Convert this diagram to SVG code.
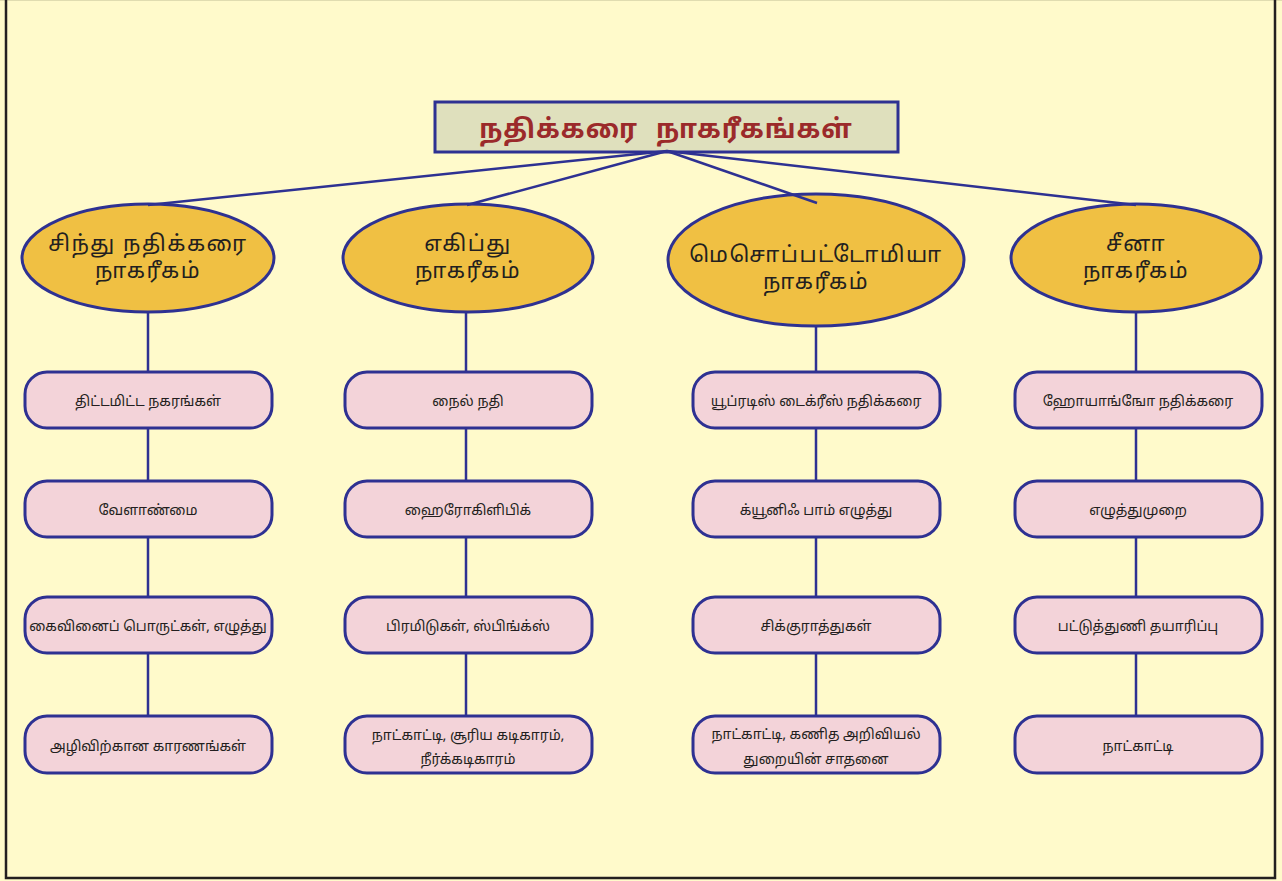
<svg xmlns="http://www.w3.org/2000/svg" width="1282" height="881" viewBox="0 0 1282 881">
<style>
.conn{stroke:#2e3192;stroke-width:2.5;fill:none}
.ell{fill:#f0c043;stroke:#2e3192;stroke-width:3}
.box{fill:#f3d3d9;stroke:#2e3192;stroke-width:3}
.et{font-family:"Noto Sans Tamil","Lohit Tamil","Noto Sans","DejaVu Sans",sans-serif;font-size:22px;fill:#231f20;text-anchor:middle;letter-spacing:1.5px}
.bt{font-family:"Noto Sans Tamil","Lohit Tamil","Noto Sans","DejaVu Sans",sans-serif;font-size:14px;fill:#231f20;text-anchor:middle}
.tt{font-family:"Noto Sans Tamil","Lohit Tamil","Noto Sans","DejaVu Sans",sans-serif;font-size:26px;font-weight:bold;fill:#9b2a2a;text-anchor:middle;letter-spacing:1px;word-spacing:10px}
</style>
<rect x="0" y="0" width="1282" height="881" fill="#fffacb"/>
<line x1="0" y1="0.5" x2="1282" y2="0.5" stroke="#e0dcb0" stroke-width="1"/>
<path d="M6 0 V878 H1275 V0" fill="none" stroke="#231f20" stroke-width="2.5"/>
<g id="title">
<rect x="435" y="102" width="463" height="50" fill="#dfe0bd" stroke="#2e3192" stroke-width="3"/>
<text class="tt" x="666" y="138">நதிக்கரை நாகரீகங்கள்</text>
</g>
<g id="indus">
<ellipse class="ell" cx="148" cy="258" rx="126" ry="54"/>
<text class="et" x="148" y="251">சிந்து நதிக்கரை</text>
<text class="et" x="148" y="278">நாகரீகம்</text>
</g>
<g id="egypt">
<ellipse class="ell" cx="468" cy="258" rx="125" ry="54"/>
<text class="et" x="468" y="251">எகிப்து</text>
<text class="et" x="468" y="278">நாகரீகம்</text>
</g>
<g id="meso">
<ellipse class="ell" cx="816" cy="260" rx="148" ry="66"/>
<text class="et" x="816" y="262">மெசொப்பட்டோமியா</text>
<text class="et" x="816" y="289">நாகரீகம்</text>
</g>
<g id="china">
<ellipse class="ell" cx="1136" cy="258" rx="125" ry="54"/>
<text class="et" x="1136" y="251">சீனா</text>
<text class="et" x="1136" y="278">நாகரீகம்</text>
</g>
<g id="c1r1"><rect class="box" x="25" y="372" width="247" height="56" rx="22"/><text class="bt" x="148" y="406">திட்டமிட்ட நகரங்கள்</text></g>
<g id="c1r2"><rect class="box" x="25" y="481" width="247" height="56" rx="22"/><text class="bt" x="148" y="515">வேளாண்மை</text></g>
<g id="c1r3"><rect class="box" x="25" y="597" width="247" height="56" rx="22"/><text class="bt" x="148" y="631">கைவினைப் பொருட்கள், எழுத்து</text></g>
<g id="c1r4"><rect class="box" x="25" y="716" width="247" height="57" rx="22"/><text class="bt" x="148" y="751">அழிவிற்கான காரணங்கள்</text></g>
<g id="c2r1"><rect class="box" x="345" y="372" width="247" height="56" rx="22"/><text class="bt" x="468" y="406">நைல் நதி</text></g>
<g id="c2r2"><rect class="box" x="345" y="481" width="247" height="56" rx="22"/><text class="bt" x="468" y="515">ஹைரோகிளிபிக்</text></g>
<g id="c2r3"><rect class="box" x="345" y="597" width="247" height="56" rx="22"/><text class="bt" x="468" y="631">பிரமிடுகள், ஸ்பிங்க்ஸ்</text></g>
<g id="c2r4"><rect class="box" x="345" y="716" width="247" height="57" rx="22"/><text class="bt" x="468" y="740">நாட்காட்டி, சூரிய கடிகாரம்,</text><text class="bt" x="468" y="764">நீர்க்கடிகாரம்</text></g>
<g id="c3r1"><rect class="box" x="693" y="372" width="247" height="56" rx="22"/><text class="bt" x="816" y="406">யூப்ரடிஸ் டைக்ரீஸ் நதிக்கரை</text></g>
<g id="c3r2"><rect class="box" x="693" y="481" width="247" height="56" rx="22"/><text class="bt" x="816" y="515">க்யூனிஃ பாம் எழுத்து</text></g>
<g id="c3r3"><rect class="box" x="693" y="597" width="247" height="56" rx="22"/><text class="bt" x="816" y="631">சிக்குராத்துகள்</text></g>
<g id="c3r4"><rect class="box" x="693" y="716" width="247" height="57" rx="22"/><text class="bt" x="816" y="739">நாட்காட்டி, கணித அறிவியல்</text><text class="bt" x="816" y="764">துறையின் சாதனை</text></g>
<g id="c4r1"><rect class="box" x="1015" y="372" width="247" height="56" rx="22"/><text class="bt" x="1138" y="406">ஹோயாங்ஙோ நதிக்கரை</text></g>
<g id="c4r2"><rect class="box" x="1015" y="481" width="247" height="56" rx="22"/><text class="bt" x="1138" y="515">எழுத்துமுறை</text></g>
<g id="c4r3"><rect class="box" x="1015" y="597" width="247" height="56" rx="22"/><text class="bt" x="1138" y="631">பட்டுத்துணி தயாரிப்பு</text></g>
<g id="c4r4"><rect class="box" x="1015" y="716" width="247" height="57" rx="22"/><text class="bt" x="1138" y="751">நாட்காட்டி</text></g>
<g id="connectors">
<line class="conn" x1="667" y1="151" x2="148" y2="205"/>
<line class="conn" x1="667" y1="151" x2="467" y2="205"/>
<line class="conn" x1="667" y1="151" x2="817" y2="203"/>
<line class="conn" x1="667" y1="151" x2="1136" y2="205"/>
<path class="conn" d="M148 312V372M148 428V481M148 537V597M148 653V716"/>
<path class="conn" d="M466 312V372M466 428V481M466 537V597M466 653V716"/>
<path class="conn" d="M816 326V372M816 428V481M816 537V597M816 653V716"/>
<path class="conn" d="M1136 312V372M1136 428V481M1136 537V597M1136 653V716"/>
</g>
</svg>
